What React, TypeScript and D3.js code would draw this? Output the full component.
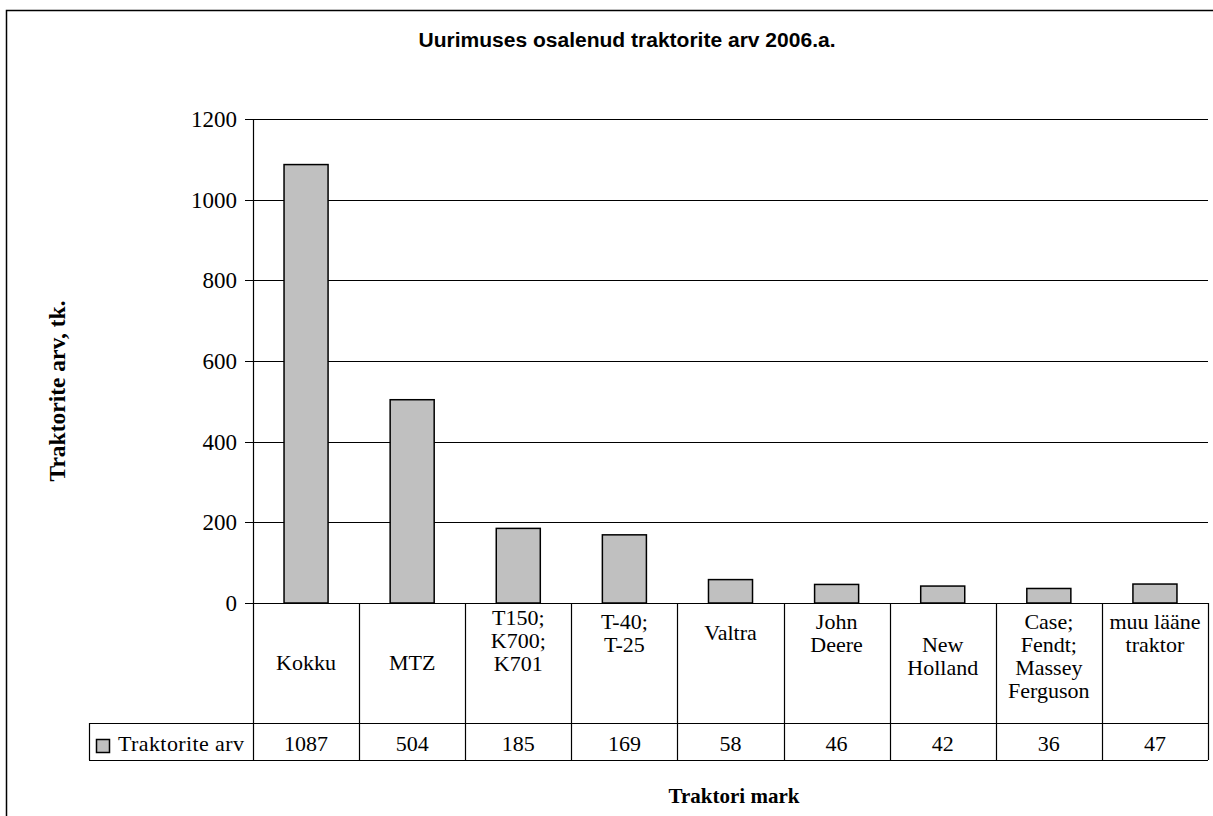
import React from "react";
import * as d3 from "d3";

// ---- data ----
const categories: string[] = [
  "Kokku",
  "MTZ",
  "T150;\nK700;\nK701",
  "T-40;\nT-25",
  "Valtra",
  "John\nDeere",
  "New\nHolland",
  "Case;\nFendt;\nMassey\nFerguson",
  "muu lääne\ntraktor",
];
const values: number[] = [1087, 504, 185, 169, 58, 46, 42, 36, 47];
const yTicks: number[] = [0, 200, 400, 600, 800, 1000, 1200];
const seriesName = "Traktorite arv";
const title = "Uurimuses osalenud traktorite arv 2006.a.";
const yTitle = "Traktorite arv, tk.";
const xTitle = "Traktori mark";

// ---- layout ----
const W = 1213;
const H = 816;
const plotLeft = 253;
const plotRight = 1208;
const plotTop = 119;
const plotBottom = 603;
const catRowBottom = 723;
const valRowBottom = 760;
const legendLeft = 89;
const serif = "Liberation Serif";
const sans = "Liberation Sans";
// vertical shift (px) of each category label block inside its cell
const labelShift: number[] = [0, 0, -22, -30, -30, -30, -7, -7, -30];

export default function App() {
  const x = d3
    .scaleBand<string>()
    .domain(categories)
    .range([plotLeft, plotRight])
    .padding(0);
  const y = d3.scaleLinear().domain([0, 1200]).range([plotBottom, plotTop]);
  const bw = x.bandwidth();
  const barW = bw * 0.415;
  const lineH = 23;
  const catMid = 663;
  const valBase = 751;

  return (
    <svg
      width={W}
      height={H}
      style={{ position: "absolute", left: 0, top: 0, background: "#fff" }}
    >
      <rect x={0} y={0} width={W} height={H} fill="#fff" />
      {/* outer frame */}
      <rect
        x={6.5}
        y={10.5}
        width={W + 20}
        height={H + 20}
        fill="none"
        stroke="#000"
        strokeWidth={1.5}
      />
      {/* title */}
      <text
        x={627}
        y={47}
        textAnchor="middle"
        fontFamily={sans}
        fontWeight="bold"
        fontSize={20}
        textLength={417}
        lengthAdjust="spacingAndGlyphs"
      >
        {title}
      </text>

      {/* gridlines */}
      {yTicks.map((t) => (
        <line
          key={"g" + t}
          x1={plotLeft}
          x2={plotRight}
          y1={Math.round(y(t)) + 0.5}
          y2={Math.round(y(t)) + 0.5}
          stroke="#000"
          strokeWidth={1}
        />
      ))}
      {/* ticks + labels */}
      {yTicks.map((t) => (
        <g key={"t" + t}>
          <line
            x1={plotLeft - 8}
            x2={plotLeft}
            y1={Math.round(y(t)) + 0.5}
            y2={Math.round(y(t)) + 0.5}
            stroke="#000"
          />
          <text
            x={237}
            y={y(t) + 8}
            textAnchor="end"
            fontFamily={serif}
            fontSize={23}
          >
            {t}
          </text>
        </g>
      ))}

      {/* bars */}
      {categories.map((c, i) => (
        <rect
          key={"b" + c}
          x={(x(c) as number) + (bw - barW) / 2}
          y={y(values[i])}
          width={barW}
          height={plotBottom - y(values[i])}
          fill="#C0C0C0"
          stroke="#000"
          strokeWidth={1.5}
        />
      ))}

      {/* y axis */}
      <line
        x1={plotLeft + 0.5}
        x2={plotLeft + 0.5}
        y1={plotTop}
        y2={valRowBottom}
        stroke="#000"
        strokeWidth={1.2}
      />
      {/* data table lines */}
      <line x1={plotLeft} x2={plotRight} y1={plotBottom + 0.5} y2={plotBottom + 0.5} stroke="#000" strokeWidth={1.2} />
      <line x1={legendLeft} x2={plotRight} y1={catRowBottom + 0.5} y2={catRowBottom + 0.5} stroke="#000" strokeWidth={1.2} />
      <line x1={legendLeft} x2={plotRight} y1={valRowBottom + 0.5} y2={valRowBottom + 0.5} stroke="#000" strokeWidth={1.2} />
      <line x1={legendLeft + 0.5} x2={legendLeft + 0.5} y1={catRowBottom} y2={valRowBottom} stroke="#000" strokeWidth={1.2} />
      {categories.map((c) => (
        <line
          key={"v" + c}
          x1={Math.round((x(c) as number) + bw) + 0.5}
          x2={Math.round((x(c) as number) + bw) + 0.5}
          y1={plotBottom}
          y2={valRowBottom}
          stroke="#000"
          strokeWidth={1.2}
        />
      ))}

      {/* category labels */}
      {categories.map((c, i) => {
        const lines = c.split("\n");
        const cx = (x(c) as number) + bw / 2;
        const first = catMid + labelShift[i] - ((lines.length - 1) * lineH) / 2 + 7;
        return (
          <text
            key={"c" + c}
            textAnchor="middle"
            fontFamily={serif}
            fontSize={22}
          >
            {lines.map((l, k) => (
              <tspan key={k} x={cx} y={first + k * lineH}>
                {l}
              </tspan>
            ))}
          </text>
        );
      })}

      {/* values */}
      {categories.map((c, i) => (
        <text
          key={"val" + c}
          x={(x(c) as number) + bw / 2}
          y={valBase}
          textAnchor="middle"
          fontFamily={serif}
          fontSize={22}
        >
          {values[i]}
        </text>
      ))}

      {/* legend key */}
      <rect x={96.5} y={739.5} width={13} height={13} fill="#C0C0C0" stroke="#000" strokeWidth={1.5} />
      <text
        x={118}
        y={valBase}
        fontFamily={serif}
        fontSize={22}
        textLength={126}
        lengthAdjust="spacing"
      >
        {seriesName}
      </text>

      {/* axis titles */}
      <text
        transform={`translate(65, 391) rotate(-90)`}
        textAnchor="middle"
        fontFamily={serif}
        fontWeight="bold"
        fontSize={23.5}
      >
        {yTitle}
      </text>
      <text
        x={734}
        y={803}
        textAnchor="middle"
        fontFamily={serif}
        fontWeight="bold"
        fontSize={21}
      >
        {xTitle}
      </text>
    </svg>
  );
}
